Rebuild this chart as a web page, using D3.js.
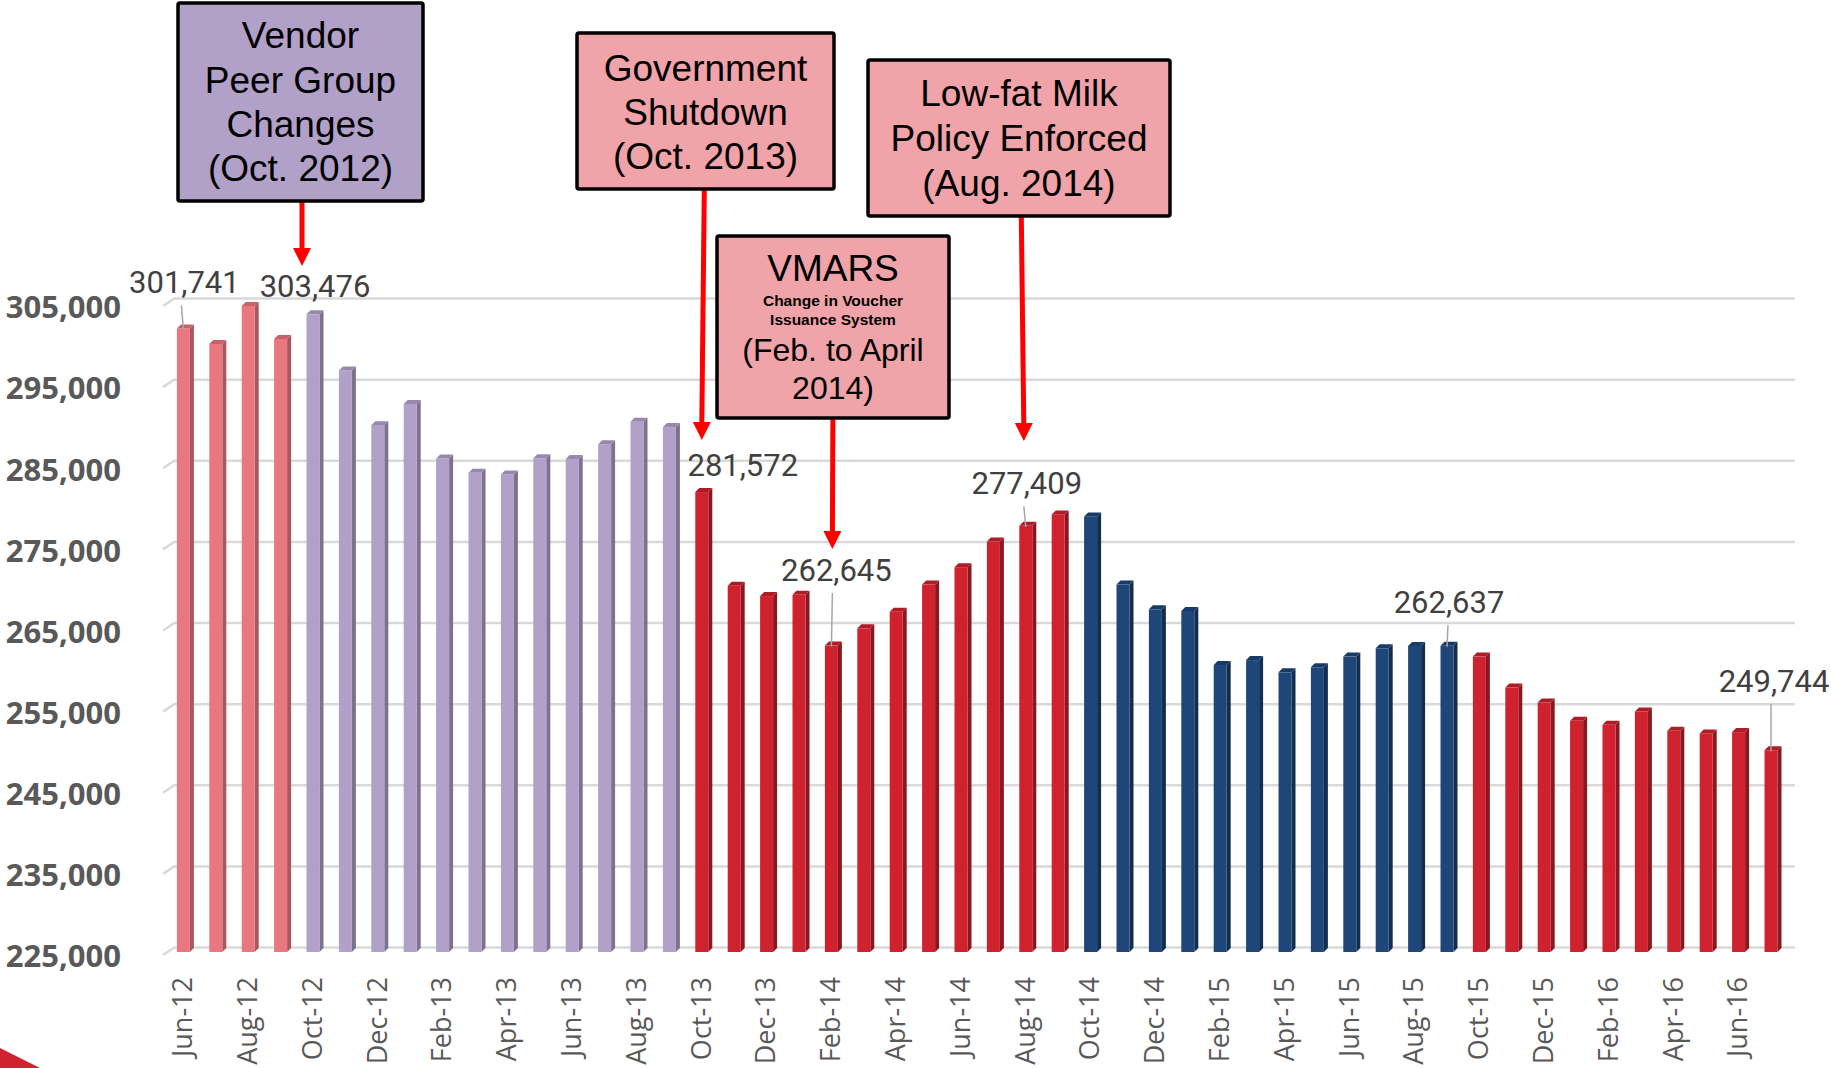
<!DOCTYPE html>
<html>
<head>
<meta charset="utf-8">
<script src="https://cdn.jsdelivr.net/npm/d3@7/dist/d3.min.js"></script>
<style>
  body { margin: 0; background: #fff; }
  svg { display: block; background: #fff; }
</style>
</head>
<body>
<svg id="chart" width="1831" height="1068"></svg>
<script>
// monthly participation, Jun-12 .. Jul-16
const months = [
  "Jun-12", "Jul-12", "Aug-12", "Sep-12", "Oct-12", "Nov-12", "Dec-12",
  "Jan-13", "Feb-13", "Mar-13", "Apr-13", "May-13", "Jun-13", "Jul-13", "Aug-13", "Sep-13", "Oct-13", "Nov-13", "Dec-13",
  "Jan-14", "Feb-14", "Mar-14", "Apr-14", "May-14", "Jun-14", "Jul-14", "Aug-14", "Sep-14", "Oct-14", "Nov-14", "Dec-14",
  "Jan-15", "Feb-15", "Mar-15", "Apr-15", "May-15", "Jun-15", "Jul-15", "Aug-15", "Sep-15", "Oct-15", "Nov-15", "Dec-15",
  "Jan-16", "Feb-16", "Mar-16", "Apr-16", "May-16", "Jun-16", "Jul-16"
];
const participants = [
  301741, 299820, 304520, 300440, 303476, 296560, 289820,
  292440, 285700, 283950, 283740, 285740, 285660, 287460, 290230, 289580, 281572, 270020, 268750,
  268900, 262645, 264780, 266810, 270170, 272310, 275470, 277409, 278820, 278570, 270170, 267120,
  266920, 260250, 260860, 259350, 259970, 261290, 262310, 262600, 262637, 261290, 257470, 255630,
  253380, 252880, 254520, 252150, 251820, 251980, 249744
];
// colour period each bar belongs to
const phaseStarts = ["Jun-12", "Oct-12", "Oct-13", "Oct-14", "Oct-15"];
const phaseNames = ["pink", "lavender", "red", "navy", "red"];
const yTicks = [225000, 235000, 245000, 255000, 265000, 275000, 285000, 295000, 305000];
const tickMonths = months.filter((m, i) => i % 2 === 0);
const labelledMonths = ["Jun-12", "Oct-12", "Oct-13", "Feb-14", "Aug-14", "Sep-15", "Jul-16"];

const shades = {
  pink:     { front: "#E8777F", side: "#A9565C", cap: "#C8626A" },
  lavender: { front: "#B1A0C7", side: "#7D7190", cap: "#9888AE" },
  red:      { front: "#D0212E", side: "#8B1720", cap: "#AE1C27" },
  navy:     { front: "#1F4679", side: "#132D50", cap: "#183A66" }
};

// label placement relative to the bar top (px)
const labelLayout = {
  "Jun-12": { dx: 1, up: 35, leader: true, ldx: -2 },
  "Oct-12": { dx: 2, up: 17, leader: false },
  "Oct-13": { dx: 41, up: 16.5, leader: false },
  "Feb-14": { dx: 5, up: 64.5, leader: true, ldx: 1 },
  "Aug-14": { dx: 1, up: 31.5, leader: true, ldx: -2 },
  "Sep-15": { dx: 2, up: 32.5, leader: true, ldx: 1 },
  "Jul-16": { dx: 3, up: 58.5, leader: true, ldx: 0 }
};

const callouts = [
  { box: [178, 3, 245, 198], fill: "#B1A0C7",
    lines: [["Vendor", 48], ["Peer Group", 93], ["Changes", 137], ["(Oct. 2012)", 181]],
    arrow: { month: "Oct-12", nudge: -11, topNudge: 0, tipY: 266 } },
  { box: [577, 33, 257, 156], fill: "#F0A3A8",
    lines: [["Government", 80.5], ["Shutdown", 124.5], ["(Oct. 2013)", 168.5]],
    arrow: { month: "Oct-13", nudge: 0, topNudge: 2.5, tipY: 440 } },
  { box: [717, 236, 232, 182], fill: "#F0A3A8",
    lines: [["VMARS", 281], ["Change in Voucher", 306, 15.5, true], ["Issuance System", 325, 15.5, true],
            ["(Feb. to April", 361, 32], ["2014)", 399, 32]],
    arrow: { month: "Feb-14", nudge: 1, topNudge: 0.5, tipY: 549 } },
  { box: [868, 60, 302, 156], fill: "#F0A3A8",
    lines: [["Low-fat Milk", 105.5], ["Policy Enforced", 150.5], ["(Aug. 2014)", 196]],
    arrow: { month: "Aug-14", nudge: -2, topNudge: -2.5, tipY: 441 } }
];

const svg = d3.select("#chart");

// decorative corner swoosh
svg.append("path")
  .attr("d", "M0,1048 Q20,1058 40,1068 L0,1068 Z")
  .attr("fill", "#D0212E");

const wallLeft = 175, wallRight = 1795;
const y = d3.scaleLinear().domain([225000, 305000]).range([947, 298]);
const x = d3.scaleBand().domain(months).range([169.2, 1789.2]);

const barW = 13, depth = 4, drop = 4;
const floorY = y(225000) + 5;
const barLeft = m => x(m) + (x.bandwidth() - barW - depth) / 2;
const barCenter = m => barLeft(m) + barW / 2;
const barTop = v => y(v) + drop;

function phaseOf(m) {
  const i = months.indexOf(m);
  let p = 0;
  phaseStarts.forEach((s, k) => { if (i >= months.indexOf(s)) p = k; });
  return phaseNames[p];
}

// gridlines on the back wall
svg.append("g")
  .attr("class", "grid")
  .attr("transform", "translate(" + wallLeft + ",0)")
  .call(d3.axisLeft(y).tickValues(yTicks).tickSize(-(wallRight - wallLeft)).tickFormat(""))
  .call(g => g.select(".domain").remove())
  .selectAll("line")
  .attr("stroke", "#D9D9D9")
  .attr("stroke-width", 2.5);

svg.append("g")
  .selectAll("line")
  .data(yTicks)
  .enter()
  .append("line")
  .attr("x1", wallLeft - 12)
  .attr("y1", d => y(d) + 8)
  .attr("x2", wallLeft)
  .attr("y2", d => y(d))
  .attr("stroke", "#D9D9D9")
  .attr("stroke-width", 2.5);

// y axis labels
svg.append("g")
  .attr("transform", "translate(121,9)")
  .call(d3.axisLeft(y).tickValues(yTicks).tickSize(0).tickPadding(0).tickFormat(d3.format(",")))
  .call(g => g.select(".domain").remove())
  .selectAll("text")
  .attr("dy", "0.35em")
  .style("font", "bold 31px 'Open Sans', sans-serif")
  .attr("fill", "#595959");

// x axis labels
svg.append("g")
  .attr("transform", "translate(-3,977)")
  .call(d3.axisBottom(x).tickValues(tickMonths).tickSize(0))
  .call(g => g.select(".domain").remove())
  .selectAll("text")
  .attr("x", 0)
  .attr("y", 0)
  .attr("dy", "0.36em")
  .attr("transform", "rotate(-90)")
  .style("text-anchor", "end")
  .style("font", "27px 'Open Sans', sans-serif")
  .attr("fill", "#595959");

// 3D-ish bars
const bars = svg.append("g")
  .selectAll(".bar")
  .data(months.map((m, i) => ({ month: m, value: participants[i], phase: phaseOf(m) })))
  .enter()
  .append("g")
  .attr("class", "bar");

bars.append("path")
  .attr("fill", d => shades[d.phase].side)
  .attr("d", d => {
    const x0 = barLeft(d.month) + barW, t = barTop(d.value);
    return "M" + x0 + "," + t + "L" + (x0 + depth) + "," + (t - depth) +
      "L" + (x0 + depth) + "," + (floorY - depth) + "L" + x0 + "," + floorY + "Z";
  });

bars.append("rect")
  .attr("x", d => barLeft(d.month))
  .attr("y", d => barTop(d.value))
  .attr("width", barW)
  .attr("height", d => floorY - barTop(d.value))
  .attr("fill", d => shades[d.phase].front);

bars.append("path")
  .attr("fill", d => shades[d.phase].cap)
  .attr("d", d => {
    const x0 = barLeft(d.month), t = barTop(d.value);
    return "M" + x0 + "," + t + "L" + (x0 + depth) + "," + (t - depth) +
      "L" + (x0 + barW + depth) + "," + (t - depth) + "L" + (x0 + barW) + "," + t + "Z";
  });

// data labels
const fmt = d3.format(",");
const labels = svg.append("g")
  .selectAll(".dlabel")
  .data(labelledMonths.map(m => ({ month: m, value: participants[months.indexOf(m)], lay: labelLayout[m] })))
  .enter()
  .append("g")
  .attr("class", "dlabel");

labels.filter(d => d.lay.leader)
  .append("line")
  .attr("x1", d => barCenter(d.month) + d.lay.ldx)
  .attr("y1", d => barTop(d.value) - d.lay.up + 12)
  .attr("x2", d => barCenter(d.month))
  .attr("y2", d => barTop(d.value) + 1)
  .attr("stroke", "#A6A6A6")
  .attr("stroke-width", 1.5);

labels.append("text")
  .attr("x", d => barCenter(d.month) + d.lay.dx)
  .attr("y", d => barTop(d.value) - d.lay.up)
  .attr("text-anchor", "middle")
  .style("font", "31px Roboto, sans-serif")
  .attr("fill", "#404040")
  .text(d => fmt(d.value));

// callout boxes with arrows
const notes = svg.append("g")
  .selectAll(".note")
  .data(callouts)
  .enter()
  .append("g")
  .attr("class", "note");

notes.append("line")
  .attr("x1", d => barCenter(d.arrow.month) + d.arrow.nudge + d.arrow.topNudge)
  .attr("y1", d => d.box[1] + d.box[3])
  .attr("x2", d => barCenter(d.arrow.month) + d.arrow.nudge)
  .attr("y2", d => d.arrow.tipY - 16)
  .attr("stroke", "#FF0000")
  .attr("stroke-width", 5);

notes.append("path")
  .attr("fill", "#FF0000")
  .attr("d", d => {
    const tx = barCenter(d.arrow.month) + d.arrow.nudge, ty = d.arrow.tipY;
    return "M" + tx + "," + ty + "L" + (tx - 9) + "," + (ty - 18) + "L" + (tx + 9) + "," + (ty - 18) + "Z";
  });

notes.append("rect")
  .attr("x", d => d.box[0])
  .attr("y", d => d.box[1])
  .attr("width", d => d.box[2])
  .attr("height", d => d.box[3])
  .attr("rx", 2)
  .attr("fill", d => d.fill)
  .attr("stroke", "#000")
  .attr("stroke-width", 3.5);

notes.each(function(d) {
  const cx = d.box[0] + d.box[2] / 2;
  d3.select(this)
    .selectAll("text")
    .data(d.lines)
    .enter()
    .append("text")
    .attr("x", cx)
    .attr("y", l => l[1])
    .attr("text-anchor", "middle")
    .style("font-family", "'Liberation Sans', Arial, sans-serif")
    .style("font-size", l => (l[2] || 37) + "px")
    .style("font-weight", l => (l[3] ? "bold" : "normal"))
    .attr("fill", "#000")
    .text(l => l[0]);
});
</script>
</body>
</html>
